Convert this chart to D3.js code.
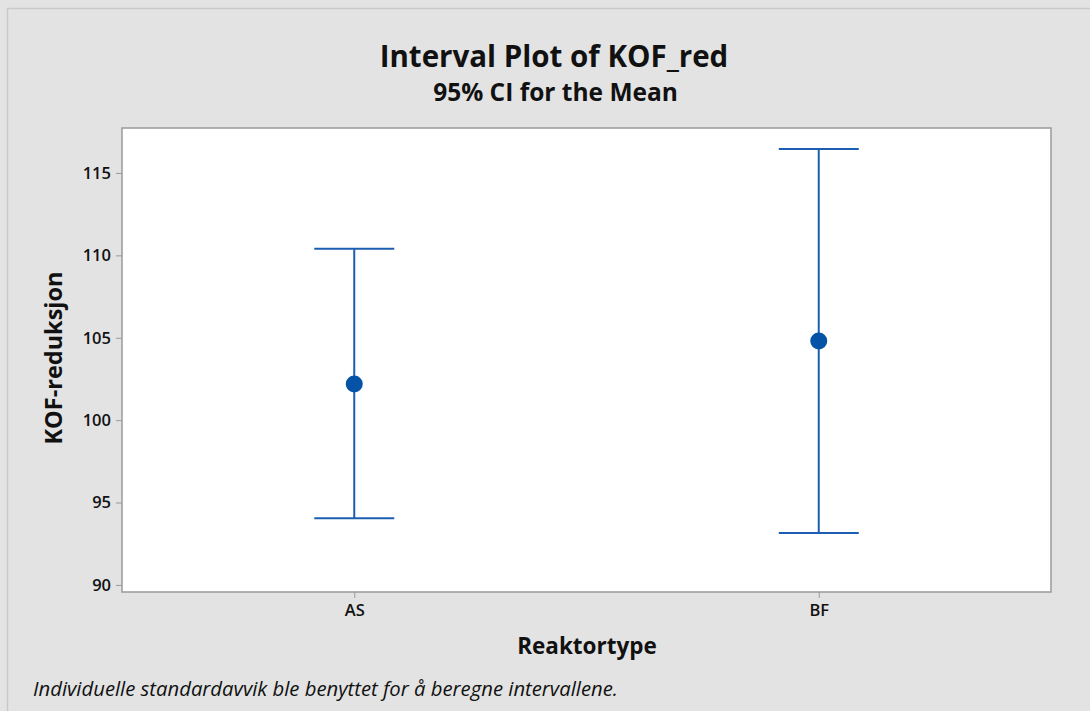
<!DOCTYPE html>
<html>
<head>
<meta charset="utf-8">
<script src="https://cdn.jsdelivr.net/npm/d3@7"></script>
<style>
  html, body { margin: 0; padding: 0; background: #e3e3e3; }
  svg { display: block; }
  text { font-family: "Open Sans", "Noto Sans", sans-serif; fill: #111; }
</style>
</head>
<body>
<svg id="chart" width="1090" height="711"></svg>
<script>
// Data
const categories = ["AS", "BF"];
const means = [102.2, 104.8];
const lower = [94.05, 93.15];
const upper = [110.4, 116.45];
const yTicks = [90, 95, 100, 105, 110, 115];

const title = "Interval Plot of KOF_red";
const subtitle = "95% CI for the Mean";
const xLabel = "Reaktortype";
const yLabel = "KOF-reduksjon";
const footnote = "Individuelle standardavvik ble benyttet for å beregne intervallene.";

const W = 1090, H = 711;
const plot = { left: 122, top: 128, right: 1051, bottom: 592 };

const svg = d3.select("#chart");

// background + outer frame
svg.append("rect").attr("x", 0).attr("y", 0).attr("width", W).attr("height", H).attr("fill", "#e3e3e3");
svg.append("rect").attr("x", 7.5).attr("y", 8.5).attr("width", W + 10).attr("height", H + 10)
  .attr("fill", "#e3e3e3").attr("stroke", "#c9c9c9").attr("stroke-width", 1.5);

// plot area
svg.append("rect")
  .attr("x", plot.left).attr("y", plot.top)
  .attr("width", plot.right - plot.left).attr("height", plot.bottom - plot.top)
  .attr("fill", "#ffffff").attr("stroke", "#9a9a9a").attr("stroke-width", 1.5);

const x = d3.scalePoint().domain(categories).range([plot.left, plot.right]).padding(0.5);
const y = d3.scaleLinear().domain([89.57, 117.73]).range([plot.bottom, plot.top]);

// axes
const yAxis = svg.append("g").attr("transform", `translate(${plot.left},0)`)
  .call(d3.axisLeft(y).tickValues(yTicks).tickSize(6).tickPadding(5));
yAxis.select(".domain").remove();
yAxis.selectAll(".tick line").attr("stroke", "#9a9a9a").attr("stroke-width", 1);
yAxis.selectAll(".tick text")
  .style("font-family", '"Open Sans", "Noto Sans", sans-serif')
  .style("font-size", "16.5px").style("font-weight", "600").attr("fill", "#111");

const xAxis = svg.append("g").attr("transform", `translate(0,${plot.bottom})`)
  .call(d3.axisBottom(x).tickSize(6).tickPadding(6));
xAxis.select(".domain").remove();
xAxis.selectAll(".tick line").attr("stroke", "#9a9a9a").attr("stroke-width", 1);
xAxis.selectAll(".tick text")
  .style("font-family", '"Open Sans", "Noto Sans", sans-serif')
  .style("font-size", "16.5px").style("font-weight", "600").attr("fill", "#111");

// interval bars
const lineColor = "#1c5fb0";
const capHalf = 40;
const g = svg.append("g");
categories.forEach((c, i) => {
  const cx = x(c);
  g.append("line").attr("x1", cx).attr("x2", cx).attr("y1", y(upper[i])).attr("y2", y(lower[i]))
    .attr("stroke", lineColor).attr("stroke-width", 2);
  g.append("line").attr("x1", cx - capHalf).attr("x2", cx + capHalf).attr("y1", y(upper[i])).attr("y2", y(upper[i]))
    .attr("stroke", lineColor).attr("stroke-width", 2);
  g.append("line").attr("x1", cx - capHalf).attr("x2", cx + capHalf).attr("y1", y(lower[i])).attr("y2", y(lower[i]))
    .attr("stroke", lineColor).attr("stroke-width", 2);
  g.append("circle").attr("cx", cx).attr("cy", y(means[i])).attr("r", 8.5).attr("fill", "#0553a6");
});

// titles
svg.append("text").attr("x", 554).attr("y", 67).attr("text-anchor", "middle")
  .style("font-size", "29.5px").style("font-weight", "700").text(title);
svg.append("text").attr("x", 555.5).attr("y", 101).attr("text-anchor", "middle")
  .style("font-size", "24.5px").style("font-weight", "700").text(subtitle);

svg.append("text").attr("x", 587).attr("y", 654).attr("text-anchor", "middle")
  .style("font-size", "22.5px").style("font-weight", "700").text(xLabel);

svg.append("text").attr("transform", `translate(62,358) rotate(-90)`).attr("text-anchor", "middle")
  .style("font-size", "23.5px").style("font-weight", "700").text(yLabel);

svg.append("text").attr("x", 33).attr("y", 696)
  .style("font-size", "20.3px").style("font-style", "italic").text(footnote);
</script>
</body>
</html>
